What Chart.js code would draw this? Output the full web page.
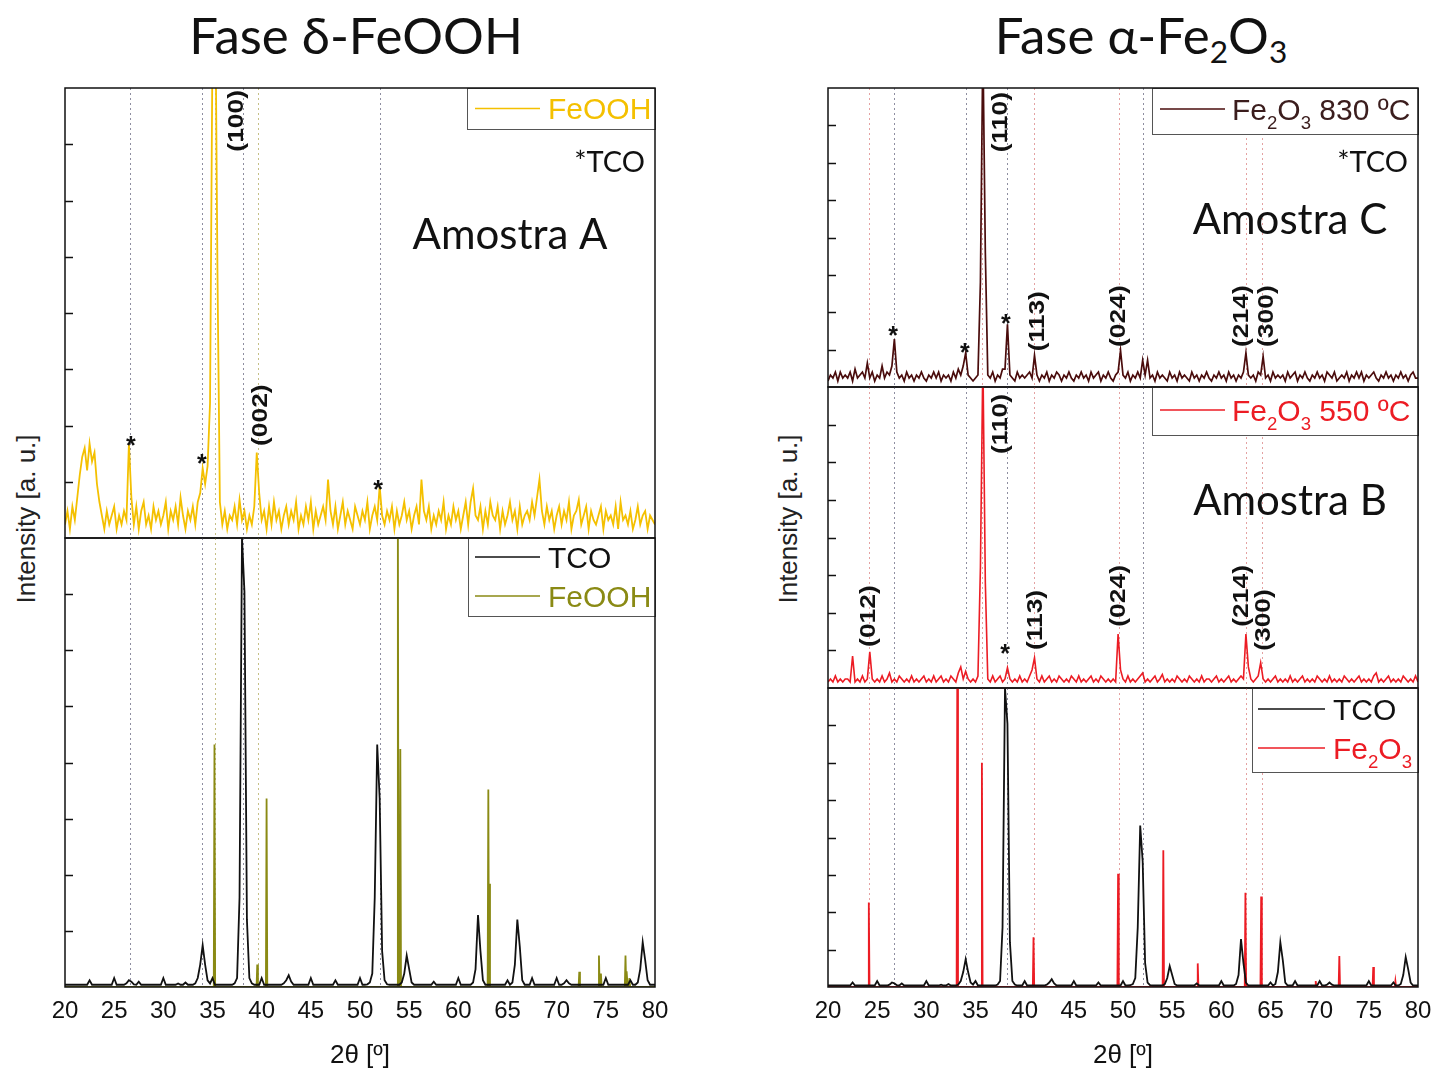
<!DOCTYPE html>
<html>
<head>
<meta charset="utf-8">
<title>XRD - Fase δ-FeOOH / α-Fe2O3</title>
<script src="https://cdn.jsdelivr.net/npm/chart.js@4.4.1/dist/chart.umd.min.js"></script>
<style>
  html, body { margin: 0; padding: 0; background: #fff; }
  body { position: relative; width: 1437px; height: 1071px; overflow: hidden; }
  canvas { position: absolute; }
  .title { position: absolute; top: 5px; font-family: Lato, 'Open Sans', sans-serif; font-size: 51px; line-height: 60px; text-align: center; color: #111; white-space: nowrap; }
  .title sub { font-size: 0.62em; vertical-align: -0.3em; line-height: 0; }
  .ytitle { position: absolute; font-family: 'Liberation Sans', Arial, sans-serif; font-size: 26px; color: #222; white-space: nowrap; transform: translate(-50%, -50%) rotate(-90deg); }
</style>
</head>
<body>
<div class="title" style="left:0;width:712px">Fase δ-FeOOH</div>
<div class="title" style="left:791px;width:700px">Fase α-Fe<sub>2</sub>O<sub>3</sub></div>
<div class="ytitle" style="left:26px;top:519px">Intensity [a. u.]</div>
<div class="ytitle" style="left:788px;top:519px">Intensity [a. u.]</div>

<script>
// 2θ grid (0.25° step) shared by the measured patterns
const twoTheta = Array.from({ length: 241 }, (_, i) => 20 + i * 0.25);
const xTickValues = [20, 25, 30, 35, 40, 45, 50, 55, 60, 65, 70, 75, 80];
const yTickValues = [0, 12.5, 25, 37.5, 50, 62.5, 75, 87.5, 100];

// Amostra A - FeOOH film (intensity, % of panel height)
const feoohSample = [
  3,6,2,7, 4,9,14,18, 20,15,21,17, 19,12,8,5, 2,6,3,5,
  7,2,5,3, 6,4,21,9, 3,7,2,6, 8,3,5,2, 7,4,6,3,
  5,8,2,6, 4,7,3,9, 5,2,6,4, 7,3,8,10, 15.5,12,16,30,
  110,130,60,8, 3,6,2,5, 4,7,3,8.5, 4,6,2,5, 3,7,19,10,
  4,6,2,7, 3,8,4,6, 2,5,7,3, 6,4,8,2, 5,3,7,4,
  8,2,6,3, 5,7,4,13, 6,3,7,2, 5,8,3,6, 4,2,7,5,
  3,6,4,8, 2,5,7,4, 11.5,5,3,6, 4,7,2,6, 3,5,8,4,
  6,2,5,7, 3,13,6,4, 7,2,5,3, 6,4,8,2, 5,3,7,4,
  6,2,5,8, 3,8,11,5, 4,7,2,6, 3,8,5,4, 7,2,6,3,
  5,8,4,6, 2,7,3,5, 6,4,8,5, 9,13,6,3, 7,4,6,2,
  5,7,3,6, 4,8,2,5, 6,8.5,3,5, 7,2,6,4, 3,5,7,2,
  6,4,5,3, 7,2,8,4, 5,3,6,2, 4,7,3,5, 6,2,5,4,
  3
];

// TCO substrate reference
const tcoRef = [
  .5,.5,.5,.5, .5,.5,.5,.5, .5,.5,1.5,.5, .5,.5,.5,.5, .5,.5,.5,.5,
  2,.5,.5,.5, .5,.8,1.5,1.2, .6,.5,1.2,.5, .5,.5,.5,.5, .5,.5,.5,.5,
  2,.5,.5,.5, .5,.5,.8,.5, .5,1,.5,.5, .5,.8,2,5, 9.3,5,1.5,.8,
  2,.5,.5,.5, .5,.5,.5,.5, .5,.8,2,20, 100,88,15,2, .8,.5,.5,.5,
  2,.5,.5,.5, .5,.5,.5,.5, .5,.8,1.5,2.6, 1.2,.5,.5,.5, .5,.5,.5,.5,
  2,.5,.5,.5, .5,.5,.5,.5, .5,.5,1.5,.5, .5,.5,.5,.5, .5,.5,.5,.5,
  2,.5,.5,.6, 1,3,20,54, 42,8,1.5,.6, .5,.5,.5,.5, .5,1,3,7,
  4,1,.5,.5, .5,.5,.5,.5, .5,.5,1.2,.5, .5,.5,.5,.5, .5,.5,.5,.5,
  2,.5,.5,.5, .5,.5,1,4, 16,8,1.5,.5, .5,.5,.5,.5, .5,.5,.5,.5,
  1.5,.5,1,5, 15,9,1.5,.5, .5,.5,2,.5, .5,.5,.5,.5, .5,.5,.5,.5,
  2,.5,.5,.8, 1.5,.8,.5,.5, .5,.5,.5,.5, .5,.5,.5,.5, .5,.5,.5,.5,
  2,.5,.5,.5, .5,.5,.5,.5, .5,.5,1.5,.5, .5,1,4,10, 6,1.5,.5,.5,
  .5
];

// Amostra C - Fe2O3 830 ºC
const fe830Sample = [
  2,4,3,5, 2,5,3,4, 3,5,2,6, 3,4,5,3, 8,3,5,2,
  4,3,7,3, 5,4,7,16, 5,3,4,2, 5,3,4,2, 4,3,5,3,
  2,4,3,5, 3,5,2,4, 3,4,2,5, 3,6,4,7, 11.4,4,3,2,
  3,4,35,115, 45,4,3,5, 2,4,3,6, 6,21,4,3, 2,5,3,4,
  3,4,5,3, 10.6,4,2,4, 3,5,2,4, 3,5,4,2, 4,3,5,3,
  2,4,3,5, 3,4,2,5, 3,4,5,2, 4,3,5,3, 2,4,5,12.2,
  4,3,5,2, 4,3,5,3, 9,4,9,3, 4,2,5,3, 4,3,2,5,
  3,4,2,5, 3,4,3,2, 5,3,4,2, 4,3,5,3, 2,4,3,5,
  3,4,2,5, 3,4,2,4, 3,5,11.4,4, 3,4,2,5, 4,10.2,3,4,
  2,5,3,4, 3,4,2,5, 3,4,5,2, 4,3,5,3, 2,4,3,5,
  3,4,2,5, 4,3,5,2, 3,4,3,5, 2,4,3,5, 3,5,2,4,
  3,4,5,3, 2,4,3,5, 3,4,2,4, 3,5,3,4, 2,4,5,3,
  3
];

// Amostra B - Fe2O3 550 ºC
const fe550Sample = [
  2,3,2,4, 2,3,2,3, 3,2,10.6,2, 3,2,4,2, 3,12,3,2,
  3,2,4,2, 3,5,2,3, 2,4,3,2, 3,2,4,2, 3,2,3,4,
  2,3,2,4, 2,3,4,2, 3,2,4,3, 2,5,7,3, 5.5,3,2,3,
  2,4,40,110, 35,3,2,4, 2,3,4,2, 3,6.7,3,2, 3,2,4,2,
  3,2,4,6, 10,3,2,4, 2,3,4,2, 3,2,4,3, 2,3,2,4,
  3,2,4,2, 3,2,3,4, 2,3,2,4, 3,2,3,2, 3,2,17.9,6,
  3,2,4,2, 3,2,3,4, 5,2,3,2, 3,4,2,3, 4.5,2,3,2,
  3,2,4,3, 2,3,2,4, 3,2,3,2, 4,2,3,3, 2,3,4,2,
  3,2,3,4, 2,3,2,3, 4,3,17.9,7, 3,2,3,4, 8.4,3,2,3,
  2,3,4,2, 3,2,3,2, 4,2,3,2, 3,4,2,3, 2,3,2,4,
  3,2,3,2, 4,2,3,2, 3,2,4,3, 2,3,2,3, 4,2,3,2,
  3,2,4,5, 2,3,2,3, 4,2,3,2, 3,2,4,3, 2,3,2,4,
  2
];

// reference sticks (position 2θ, relative intensity)
const feoohRefPos = [35.2, 39.55, 40.5, 53.85, 54.1, 63.05, 63.15, 72.3, 74.3, 74.5, 77.0, 77.15, 77.4];
const feoohRefInt = [54, 5, 42, 110, 53, 44, 23, 3.4, 7, 3, 7, 3.5, 2];
const fe2o3RefPos = [24.15, 33.15, 35.65, 40.9, 49.5, 54.1, 57.6, 62.45, 64.05, 69.6, 72.0, 75.45, 77.7];
const fe2o3RefInt = [28.3, 110, 75, 16.6, 37.9, 45.7, 7.9, 31.5, 30.3, 2, 10.4, 6.7, 2];

// dotted guide positions
const leftTcoGuides = [26.65, 33.97, 38.12, 52.0];
const leftFeoohGuides = [35.27, 39.65];
const rightTcoGuides = [26.7, 34.0, 38.2, 52.0];
const rightFe2o3Guides = [24.2, 35.7, 40.95, 49.6, 62.55, 64.1];

const GOLD = '#f4c000', OLIVE = '#8a8a14', BLACK = '#111111', DARK = '#4a0c0c', RED = '#ec1c24';
const GUIDE_GREY = '#8e8ea0', GUIDE_PINK = '#e4a2a2', GUIDE_OLIVE = '#c6bf86';
const FE830 = ['Fe', ['2'], 'O', ['3'], ' 830 ºC'];
const FE550 = ['Fe', ['2'], 'O', ['3'], ' 550 ºC'];
const FE = ['Fe', ['2'], 'O', ['3']];

const leftGuides = leftTcoGuides.map(v => [v, GUIDE_GREY]).concat(leftFeoohGuides.map(v => [v, GUIDE_OLIVE]));
const rightGuides = rightTcoGuides.map(v => [v, GUIDE_GREY]).concat(rightFe2o3Guides.map(v => [v, GUIDE_PINK]));

const decor = {
  ul: {
    guides: leftGuides,
    legend: { w: 188, h: 41, line: [8, 73], textX: 81, rows: [{ y: 20.5, color: GOLD, text: ['FeOOH'] }] },
    miller: [[37.39, 92.7, '(100)'], [39.83, 27.3, '(002)']],
    stars: [[26.71, 21.8], [33.93, 17.8], [51.83, 12]],
    notes: [[78.98, 83.6, '*TCO', 'right', 29], [65.26, 67.6, 'Amostra A', 'center', 42]]
  },
  ll: {
    guides: leftGuides,
    legend: { w: 187, h: 78, line: [7, 72], textX: 80, rows: [{ y: 19, color: BLACK, text: ['TCO'] }, { y: 58, color: OLIVE, text: ['FeOOH'] }] },
    miller: [], stars: [], notes: []
  },
  ur: {
    guides: rightGuides,
    legend: { w: 266, h: 46, line: [8, 73], textX: 80, rows: [{ y: 21, color: DARK, textColor: '#3b1d1d', text: FE830 }] },
    miller: [[37.49, 88.6, '(110)'], [41.25, 22, '(113)'], [49.49, 23.7, '(024)'], [62.0, 23.7, '(214)'], [64.54, 23.7, '(300)']],
    stars: [[26.61, 19.1], [33.93, 13.4], [38.1, 23.1]],
    notes: [[78.98, 75.3, '*TCO', 'right', 29], [66.98, 56.2, 'Amostra C', 'center', 42]]
  },
  mr: {
    guides: rightGuides,
    legend: { w: 266, h: 48, line: [8, 73], textX: 80, rows: [{ y: 23, color: RED, text: FE550 }] },
    miller: [[37.49, 87.7, '(110)'], [24.07, 23.9, '(012)'], [41.05, 22.6, '(113)'], [49.49, 30.6, '(024)'], [62.0, 30.6, '(214)'], [64.24, 22.6, '(300)']],
    stars: [[38.0, 13.3]],
    notes: [[66.98, 62.5, 'Amostra B', 'center', 42]]
  },
  br: {
    guides: rightGuides,
    legend: { w: 166, h: 84, line: [6, 73], textX: 81, rows: [{ y: 21, color: BLACK, text: ['TCO'] }, { y: 60, color: RED, text: FE }] },
    miller: [], stars: [], notes: []
  }
};

function drawRich(ctx, parts, x, y, size) {
  // y = cap centre
  const base = y + size * 0.358;
  parts.forEach(p => {
    const sub = Array.isArray(p);
    const t = sub ? p[0] : p;
    ctx.font = (sub ? size * 0.62 : size) + 'px "Liberation Sans", Arial, sans-serif';
    ctx.fillText(t, x, sub ? base + size * 0.3 : base);
    x += ctx.measureText(t).width;
  });
}

const xrdDecor = {
  id: 'xrdDecor',
  beforeDatasetsDraw(chart) {
    const d = decor[chart.canvas.id];
    const { ctx, chartArea: a } = chart;
    const x = chart.scales.x;
    ctx.save();
    ctx.setLineDash([2, 3]);
    ctx.lineWidth = 1;
    d.guides.forEach(([v, col]) => {
      const px = Math.round(x.getPixelForValue(v)) + 0.5;
      ctx.strokeStyle = col;
      ctx.beginPath();
      ctx.moveTo(px, a.top);
      ctx.lineTo(px, a.bottom);
      ctx.stroke();
    });
    ctx.restore();
  },
  afterDraw(chart) {
    const d = decor[chart.canvas.id];
    const { ctx, chartArea: a } = chart;
    const x = chart.scales.x, y = chart.scales.y;
    ctx.save();
    ctx.textBaseline = 'alphabetic';

    // hkl labels
    ctx.fillStyle = '#111';
    d.miller.forEach(([v, h, t]) => {
      ctx.save();
      ctx.translate(x.getPixelForValue(v), y.getPixelForValue(h));
      ctx.rotate(-Math.PI / 2);
      ctx.scale(1.2, 1);
      ctx.font = 'bold 22px "Liberation Sans", Arial, sans-serif';
      ctx.textAlign = 'center';
      ctx.textBaseline = 'middle';
      ctx.fillText(t, 0, 1);
      ctx.restore();
    });

    // TCO markers
    ctx.font = 'bold 25px "Liberation Sans", Arial, sans-serif';
    ctx.textAlign = 'center';
    d.stars.forEach(([v, h]) => {
      ctx.fillText('*', x.getPixelForValue(v), y.getPixelForValue(h) + 14);
    });

    // free notes
    d.notes.forEach(([v, h, t, align, size]) => {
      ctx.font = size + 'px Lato, "Open Sans", sans-serif';
      ctx.textAlign = align;
      ctx.fillText(t, x.getPixelForValue(v), y.getPixelForValue(h) + size * 0.36);
    });

    // legend box
    const lg = d.legend;
    const lx = a.right - lg.w, ly = a.top;
    ctx.fillStyle = '#fff';
    ctx.fillRect(lx, ly, lg.w, lg.h);
    ctx.strokeStyle = '#555';
    ctx.lineWidth = 1;
    ctx.strokeRect(lx + 0.5, ly + 0.5, lg.w, lg.h);
    ctx.textAlign = 'left';
    lg.rows.forEach(r => {
      ctx.strokeStyle = r.color;
      ctx.lineWidth = 1.6;
      ctx.beginPath();
      ctx.moveTo(lx + lg.line[0], ly + r.y);
      ctx.lineTo(lx + lg.line[1], ly + r.y);
      ctx.stroke();
      ctx.fillStyle = r.textColor || r.color;
      drawRich(ctx, r.text, lx + lg.textX, ly + r.y, 30);
    });

    // frame and inward y ticks
    ctx.strokeStyle = '#111';
    ctx.lineWidth = 1.5;
    ctx.strokeRect(a.left, a.top, a.right - a.left, a.bottom - a.top);
    y.ticks.forEach(t => {
      if (t.value <= 0 || t.value >= 100) return;
      const py = Math.round(y.getPixelForValue(t.value)) + 0.5;
      ctx.beginPath();
      ctx.moveTo(a.left, py);
      ctx.lineTo(a.left + 8, py);
      ctx.stroke();
    });
    ctx.restore();
  }
};

function series(values) {
  return twoTheta.map((x, i) => ({ x, y: values[i] }));
}

function sticks(pos, hts) {
  const pts = [{ x: 20, y: 0 }];
  pos.forEach((p, i) => {
    pts.push({ x: p - 0.07, y: 0 }, { x: p, y: hts[i] }, { x: p + 0.07, y: 0 });
  });
  pts.push({ x: 80, y: 0 });
  return pts;
}

function line(data, color, width) {
  return { data, borderColor: color, borderWidth: width, pointRadius: 0, tension: 0, fill: false };
}

const PADX = 32, PADY = 4, PAGE_H = 1071;

function makePanel(id, x0, x1, y0, y1, isBottom, datasets) {
  const c = document.createElement('canvas');
  c.id = id;
  const w = x1 - x0 + 2 * PADX;
  const h = isBottom ? PAGE_H - (y0 - PADY) : y1 - y0 + 2 * PADY;
  c.width = w; c.height = h;
  c.style.width = w + 'px'; c.style.height = h + 'px';
  c.style.left = (x0 - PADX) + 'px'; c.style.top = (y0 - PADY) + 'px';
  document.body.appendChild(c);

  new Chart(c, {
    type: 'line',
    data: { datasets },
    options: {
      responsive: false,
      animation: false,
      devicePixelRatio: 1,
      layout: { autoPadding: false, padding: { left: PADX, right: PADX, top: PADY, bottom: isBottom ? 0 : PADY } },
      plugins: { legend: { display: false }, tooltip: { enabled: false } },
      scales: {
        x: {
          type: 'linear', min: 20, max: 80,
          grid: { display: false }, border: { display: false },
          afterBuildTicks: s => { s.ticks = xTickValues.map(v => ({ value: v })); },
          ticks: { display: isBottom, autoSkip: false, maxRotation: 0, padding: 2, color: '#111',
                   font: { family: '"Liberation Sans Narrow", "Liberation Sans", Arial', size: 24 } },
          title: { display: isBottom, text: '2θ [º]', color: '#111', padding: { top: 0, bottom: 0 },
                   font: { family: '"Liberation Sans Narrow", "Liberation Sans", Arial', size: 26 } },
          afterFit: s => { s.height = isBottom ? PAGE_H - y1 : 0; }
        },
        y: {
          min: 0, max: 100,
          grid: { display: false }, border: { display: false },
          afterBuildTicks: s => { s.ticks = yTickValues.map(v => ({ value: v })); },
          ticks: { display: false },
          afterFit: s => { s.width = 0; }
        }
      }
    },
    plugins: [xrdDecor]
  });
}

// left: δ-FeOOH
makePanel('ul', 65, 655, 88, 538, false, [line(series(feoohSample), GOLD, 1.8)]);
makePanel('ll', 65, 655, 538, 987, true, [
  line(series(tcoRef), BLACK, 1.8),
  line(sticks(feoohRefPos, feoohRefInt), OLIVE, 1.8)
]);

// right: α-Fe2O3
makePanel('ur', 828, 1418, 88, 387, false, [line(series(fe830Sample), DARK, 1.7)]);
makePanel('mr', 828, 1418, 387, 688, false, [line(series(fe550Sample), RED, 1.6)]);
makePanel('br', 828, 1418, 688, 987, true, [
  line(series(tcoRef), BLACK, 1.8),
  line(sticks(fe2o3RefPos, fe2o3RefInt), RED, 1.8)
]);
</script>
</body>
</html>
